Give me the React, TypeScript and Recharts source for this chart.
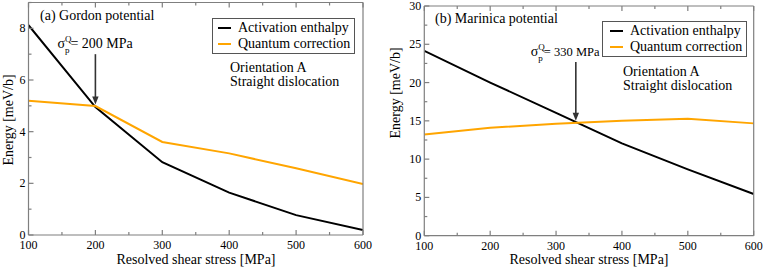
import React from 'react';
import { LineChart, Line, XAxis, YAxis, ReferenceLine } from 'recharts';

const FONT = '"Liberation Serif", "Times New Roman", serif';
const FRAME = '#7f7f7f';
const ORANGE = '#ffa500';
const DARK = '#333333';

// ---- data ----
const stress = [100, 200, 300, 400, 500, 600];
const gordonActivation = [8.12, 4.95, 2.82, 1.64, 0.77, 0.19];
const gordonQuantum = [5.2, 4.99, 3.6, 3.16, 2.58, 1.97];
const marinicaActivation = [24.15, 20.0, 16.05, 12.06, 8.66, 5.44];
const marinicaQuantum = [13.23, 14.1, 14.63, 15.02, 15.28, 14.67];

const xTicks = [100, 150, 200, 250, 300, 350, 400, 450, 500, 550, 600];
const xLabelTicks = [100, 200, 300, 400, 500, 600];
const gordonYTicks = [0, 1, 2, 3, 4, 5, 6, 7, 8, 9];
const gordonYLabelTicks = [0, 2, 4, 6, 8];
const marinicaYTicks = [0, 2.5, 5, 7.5, 10, 12.5, 15, 17.5, 20, 22.5, 25, 27.5, 30];
const marinicaYLabelTicks = [0, 5, 10, 15, 20, 25, 30];

const seriesNames = ['Activation enthalpy', 'Quantum correction'];
const panelTitles = ['(a) Gordon potential', '(b) Marinica potential'];
const noteLines = ['Orientation A', 'Straight dislocation'];
const xTitle = 'Resolved shear stress [MPa]';
const yTitle = 'Energy [meV/b]';
const peierlsStress = [200, 330];
const arrowFrom = [7.0, 22.7];
const arrowTo = [5.05, 15.0];

const TICK_MARGIN_X = 5;
const TICK_MARGIN_Y = 3;
const TICK_FONT = 12;

function xTick(labels: number[], side: 'bottom' | 'top') {
  return (p: any) => {
    const v = p.payload.value;
    const major = labels.includes(v);
    const len = major ? 5 : 3;
    if (side === 'bottom') {
      const ay = p.y - TICK_MARGIN_X;
      return (
        <g>
          <line x1={p.x} x2={p.x} y1={ay} y2={ay - len} stroke={FRAME} strokeWidth={1.2} />
          {major && (
            <text x={p.x} y={p.y} dy="0.75em" textAnchor="middle" fontSize={TICK_FONT} fontFamily={FONT} fill="#000">
              {v}
            </text>
          )}
        </g>
      );
    }
    return <line x1={p.x} x2={p.x} y1={p.y} y2={p.y + len} stroke={FRAME} strokeWidth={1.2} />;
  };
}

function yTick(labels: number[], side: 'left' | 'right') {
  return (p: any) => {
    const v = p.payload.value;
    const major = labels.includes(v);
    const len = major ? 5 : 3;
    if (side === 'left') {
      const ax = p.x + TICK_MARGIN_Y;
      return (
        <g>
          <line x1={ax} x2={ax + len} y1={p.y} y2={p.y} stroke={FRAME} strokeWidth={1.2} />
          {major && (
            <text x={p.x} y={p.y} dy="0.33em" textAnchor="end" fontSize={TICK_FONT} fontFamily={FONT} fill="#000">
              {v}
            </text>
          )}
        </g>
      );
    }
    return <line x1={p.x} x2={p.x - len} y1={p.y} y2={p.y} stroke={FRAME} strokeWidth={1.2} />;
  };
}

const ArrowShape = (p: any) => {
  const { x1, y1, x2, y2 } = p;
  const top = Math.min(y1, y2);
  const tip = Math.max(y1, y2);
  return (
    <g>
      <line x1={x1} x2={x2} y1={top} y2={tip - 6} stroke={DARK} strokeWidth={1.6} />
      <polygon points={`${x2 - 3.2},${tip - 8} ${x2 + 3.2},${tip - 8} ${x2},${tip}`} fill={DARK} />
    </g>
  );
};

function sigmaLabel(value: number, dxStart: number, valueFont: number) {
  return (p: any) => {
    const vb = p.viewBox || {};
    const x = vb.x - dxStart;
    const y = vb.y - 6;
    return (
      <text x={x} y={y} fontFamily={FONT} fontSize={14} fill="#000">
        σ
        <tspan dy={-6} fontSize={9}>Q</tspan>
        <tspan dx={-6.5} dy={11} fontSize={9}>p</tspan>
        <tspan dx={1} dy={-5} fontSize={valueFont}>= {value} MPa</tspan>
      </text>
    );
  };
}

function LegendBox({ left, top, lineX }: { left: number; top: number; lineX: number }) {
  const colors = ['#000', ORANGE];
  return (
    <div
      style={{
        position: 'absolute',
        left,
        top,
        border: '1px solid #555',
        background: '#fff',
        padding: '1px 4px 1px 0',
        fontFamily: FONT,
        fontSize: 14,
        lineHeight: '16px',
        whiteSpace: 'nowrap',
      }}
    >
      {seriesNames.map((n, i) => (
        <div key={n} style={{ display: 'flex', alignItems: 'center' }}>
          <span style={{ display: 'inline-block', width: 13, height: 2, background: colors[i], marginLeft: lineX, marginRight: 7 }} />
          <span>{n}</span>
        </div>
      ))}
    </div>
  );
}

type PanelProps = {
  left: number;
  width: number;
  margin: { top: number; right: number; bottom: number; left: number };
  act: number[];
  qc: number[];
  yDomain: [number, number];
  yTicks: number[];
  yLabels: number[];
  idx: number;
  titlePos: [number, number];
  notePos: [number, number];
  xTitlePos: [number, number];
  yTitlePos: [number, number];
  sigmaDx: number;
  sigmaFont: number;
  legendPos: [number, number];
  legendLineX: number;
};

function Panel(pp: PanelProps) {
  const data = stress.map((s, i) => ({ x: s, act: pp.act[i], qc: pp.qc[i] }));
  const m = pp.margin;
  return (
    <div style={{ position: 'absolute', left: pp.left, top: 0, width: pp.width, height: 268 }}>
      <LineChart
        width={pp.width}
        height={268}
        data={data}
        margin={{ top: m.top - 1, right: m.right - 1, bottom: m.bottom - 1, left: m.left - 1 }}
      >
        <XAxis
          dataKey="x"
          type="number"
          domain={[100, 600]}
          ticks={xTicks}
          interval={0}
          height={1}
          tickSize={0}
          tickMargin={TICK_MARGIN_X}
          axisLine={{ stroke: FRAME, strokeWidth: 1.2 }}
          tickLine={false}
          tick={xTick(xLabelTicks, 'bottom')}
          allowDataOverflow
        />
        <XAxis
          xAxisId="top"
          orientation="top"
          dataKey="x"
          type="number"
          domain={[100, 600]}
          ticks={xTicks}
          interval={0}
          height={1}
          tickSize={0}
          tickMargin={0}
          axisLine={{ stroke: FRAME, strokeWidth: 1.2 }}
          tickLine={false}
          tick={xTick(xLabelTicks, 'top')}
        />
        <YAxis
          type="number"
          domain={pp.yDomain}
          ticks={pp.yTicks}
          interval={0}
          width={1}
          tickSize={0}
          tickMargin={TICK_MARGIN_Y}
          axisLine={{ stroke: FRAME, strokeWidth: 1.2 }}
          tickLine={false}
          tick={yTick(pp.yLabels, 'left')}
          allowDataOverflow
        />
        <YAxis
          yAxisId="right"
          orientation="right"
          type="number"
          domain={pp.yDomain}
          ticks={pp.yTicks}
          interval={0}
          width={1}
          tickSize={0}
          tickMargin={0}
          axisLine={{ stroke: FRAME, strokeWidth: 1.2 }}
          tickLine={false}
          tick={yTick(pp.yLabels, 'right')}
        />
        <Line type="linear" dataKey="act" stroke="#000" strokeWidth={2} dot={false} isAnimationActive={false} />
        <Line type="linear" dataKey="qc" stroke={ORANGE} strokeWidth={2} dot={false} isAnimationActive={false} />
        <ReferenceLine
          segment={[
            { x: peierlsStress[pp.idx], y: arrowFrom[pp.idx] },
            { x: peierlsStress[pp.idx], y: arrowTo[pp.idx] },
          ]}
          shape={ArrowShape}
          label={{ content: sigmaLabel(peierlsStress[pp.idx], pp.sigmaDx, pp.sigmaFont) } as any}
          ifOverflow="visible"
        />
        <text x={pp.titlePos[0]} y={pp.titlePos[1]} fontFamily={FONT} fontSize={14} fill="#000">
          {panelTitles[pp.idx]}
        </text>
        <text x={pp.notePos[0]} y={pp.notePos[1]} fontFamily={FONT} fontSize={14} fill="#000">
          {noteLines[0]}
        </text>
        <text x={pp.notePos[0]} y={pp.notePos[1] + 14} fontFamily={FONT} fontSize={14} fill="#000">
          {noteLines[1]}
        </text>
        <text x={pp.xTitlePos[0]} y={pp.xTitlePos[1]} textAnchor="middle" fontFamily={FONT} fontSize={14} fill="#000">
          {xTitle}
        </text>
        <text
          x={pp.yTitlePos[0]}
          y={pp.yTitlePos[1]}
          textAnchor="middle"
          transform={`rotate(-90 ${pp.yTitlePos[0]} ${pp.yTitlePos[1]})`}
          fontFamily={FONT}
          fontSize={14}
          fill="#000"
        >
          {yTitle}
        </text>
      </LineChart>
      <LegendBox left={pp.legendPos[0]} top={pp.legendPos[1]} lineX={pp.legendLineX} />
    </div>
  );
}

export default function App() {
  return (
    <div style={{ position: 'absolute', left: 0, top: 0, width: 763, height: 268, background: '#fff' }}>
      <Panel
        left={0}
        width={380}
        margin={{ top: 2.5, right: 17, bottom: 33, left: 28.5 }}
        act={gordonActivation}
        qc={gordonQuantum}
        yDomain={[0, 9]}
        yTicks={gordonYTicks}
        yLabels={gordonYLabelTicks}
        idx={0}
        titlePos={[40, 20]}
        notePos={[230, 72]}
        xTitlePos={[196, 264]}
        yTitlePos={[13, 120]}
        sigmaDx={38}
        sigmaFont={14}
        legendPos={[212, 18]}
        legendLineX={5}
      />
      <Panel
        left={380}
        width={383}
        margin={{ top: 6, right: 9.3, bottom: 32.3, left: 44.3 }}
        act={marinicaActivation}
        qc={marinicaQuantum}
        yDomain={[0, 30]}
        yTicks={marinicaYTicks}
        yLabels={marinicaYLabelTicks}
        idx={1}
        titlePos={[55, 23]}
        notePos={[243, 76]}
        xTitlePos={[209, 264]}
        yTitlePos={[20, 93]}
        sigmaDx={45}
        sigmaFont={12.5}
        legendPos={[222, 21]}
        legendLineX={7}
      />
    </div>
  );
}
